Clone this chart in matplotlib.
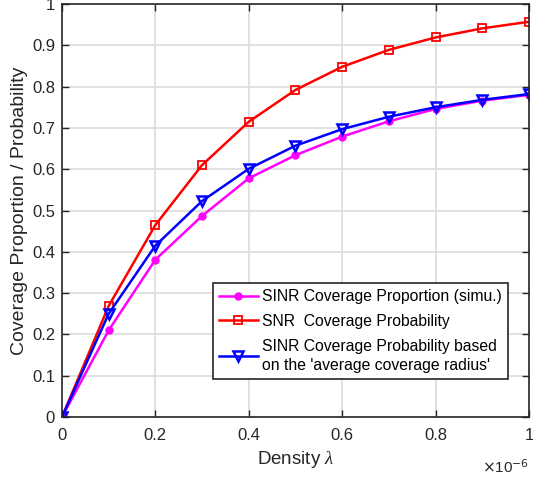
import numpy as np
import matplotlib
matplotlib.use("Agg")
import matplotlib.pyplot as plt

plt.rcParams['font.family'] = ['Liberation Sans', 'DejaVu Sans']
plt.rcParams['mathtext.fontset'] = 'custom'
plt.rcParams['mathtext.it'] = 'Liberation Serif:italic'

# density in units of 1e-6
density = [0.0, 0.1, 0.2, 0.3, 0.4, 0.5, 0.6, 0.7, 0.8, 0.9, 1.0]
sinr_simu = [0.0, 0.21, 0.381, 0.487, 0.578, 0.634, 0.679, 0.716, 0.746, 0.766, 0.780]
snr_prob = [0.0, 0.269, 0.465, 0.61, 0.715, 0.792, 0.848, 0.889, 0.919, 0.941, 0.957]
sinr_avg = [0.0, 0.25, 0.415, 0.523, 0.601, 0.657, 0.697, 0.727, 0.750, 0.768, 0.782]

fig = plt.figure(figsize=(5.33, 4.78), dpi=100)
ax = fig.add_axes([0.1163, 0.1276, 0.8762, 0.864])

ax.plot(density, sinr_simu, '-o', color='#ff00ff', lw=1.8, ms=5,
        label='SINR Coverage Proportion (simu.)')
ax.plot(density, snr_prob, '-s', color='#ff0000', lw=1.8, ms=5.5, mfc='none', mew=1.3,
        label='SNR  Coverage Probability')
ax.plot(density, sinr_avg, '-v', color='#0000ff', lw=1.8, ms=7, mfc='none', mew=1.8,
        label="SINR Coverage Probability based\non the 'average coverage radius'")

ax.set_xlim(0, 1)
ax.set_ylim(0, 1)
ax.set_xticks(np.arange(0, 1.01, 0.2))
ax.set_xticklabels(['0', '0.2', '0.4', '0.6', '0.8', '1'])
ax.set_yticks(np.arange(0, 1.01, 0.1))
ax.set_yticklabels(['0', '0.1', '0.2', '0.3', '0.4', '0.5', '0.6', '0.7', '0.8', '0.9', '1'])
ax.grid(True, color='#dcdcdc', lw=1.2)
ax.set_axisbelow(True)
ax.tick_params(direction='in', top=True, right=True, labelsize=12, colors='#262626',
               length=5, width=1)
ax.tick_params(axis='x', pad=8)
ax.tick_params(axis='y', pad=5)
for s in ax.spines.values():
    s.set_color('#262626')
    s.set_linewidth(1.2)

ax.set_xlabel(r'Density $\lambda$', fontsize=13.5, color='#262626', labelpad=4)
ax.set_ylabel('Coverage Proportion / Probability', fontsize=14, color='#262626', labelpad=3)
ax.text(1.0, -0.10, r'$\times$10$^{-6}$', transform=ax.transAxes, ha='right', va='top',
        fontsize=11, color='#262626')

leg = ax.legend(loc='lower right', bbox_to_anchor=(0.955, 0.092), fontsize=11.3,
                fancybox=False, framealpha=1, edgecolor='#262626', handlelength=2.5,
                borderpad=0.4, labelspacing=0.62, handletextpad=0.25, borderaxespad=0)
leg.get_frame().set_linewidth(1.2)
for t in leg.get_texts():
    t.set_linespacing(1.35)

fig.savefig('out.png', dpi=100)
